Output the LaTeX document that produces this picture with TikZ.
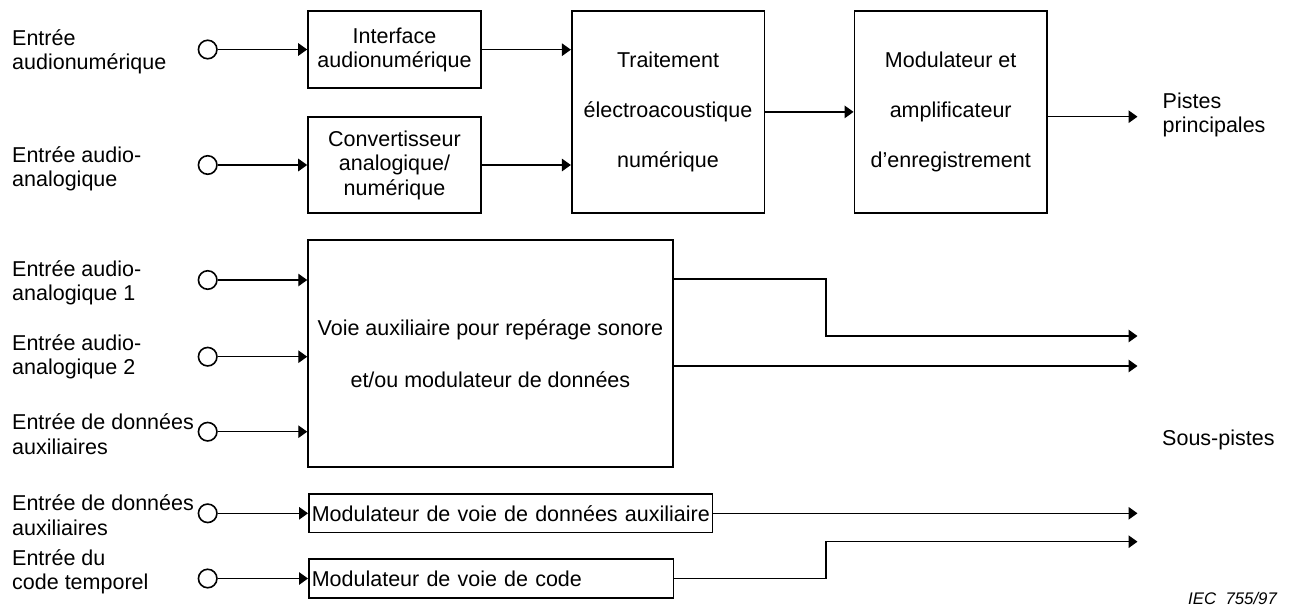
\documentclass[tikz,border=0pt]{standalone}
\usepackage{fontspec}
\setmainfont{Liberation Sans}
\usetikzlibrary{arrows.meta}

\begin{document}
\begin{tikzpicture}[x=1pt,y=-1pt,>={Triangle[length=9pt,width=12.5pt]},font=\fontsize{21.5}{24.5}\selectfont]
\tikzstyle{blk}=[draw,line width=1.6pt,align=center,inner sep=0pt]
\tikzstyle{chan}=[draw,line width=1.6pt,align=left,anchor=west,inner xsep=3pt,inner ysep=0pt,minimum height=38.7pt]
\tikzstyle{port}=[draw,circle,line width=1.6pt,minimum size=18.5pt,inner sep=0pt]
\tikzstyle{lbl}=[align=left,anchor=west,inner sep=0pt]
\tikzstyle{wire}=[line width=1.4pt]
\useasboundingbox (0,0) rectangle (1290,608);
% blocs
\node[blk,minimum width=173pt,minimum height=77pt] (iface) at (394.5,49.7) {Interface\\audionumérique};
\node[blk,minimum width=173pt,minimum height=95.5pt] (conv) at (394.5,165) {Convertisseur\\analogique/\\numérique};
\node[blk,minimum width=192.6pt,minimum height=201.7pt,font=\fontsize{21.5}{50}\selectfont] (trait) at (668,111.9) {Traitement\\électroacoustique\\numérique};
\node[blk,minimum width=192.7pt,minimum height=201.7pt,font=\fontsize{21.5}{50}\selectfont] (modul) at (950.7,111.9) {Modulateur et\\amplificateur\\d’enregistrement};
\node[blk,minimum width=364.7pt,minimum height=227pt,font=\fontsize{21.5}{52}\selectfont] (aux) at (490.4,353.5) {Voie auxiliaire pour repérage sonore\\et/ou modulateur de données};
\node[chan,text width=397.7pt] (dmod) at (308,513.3) {\mbox{Modulateur de voie de données auxiliaire}};
\node[chan,text width=358.7pt] (cmod) at (308,578.5) {\mbox{Modulateur de voie de code}};
% entrees
\foreach \i/\y/\ly/\t/\txt in {1/49.5/52/iface/{Entrée\\audionumérique},2/165/169/conv/{Entrée audio-\\analogique},3/280/283/aux/{Entrée audio-\\analogique 1},4/356.7/357/aux/{Entrée audio-\\analogique 2},5/431.7/434/aux/{Entrée de données\\auxiliaires},6/513.3/515/dmod/{Entrée de données\\auxiliaires},7/578.5/572/cmod/{Entrée du\\code temporel}} {
 \node[lbl] (l\i) at (12,\ly) {\txt};
 \node[port] (p\i) at (207.7,\y) {};
 \draw[wire,->] (p\i) -- (p\i -| \t.west);
}
\draw[wire,->] (iface) -- (iface -| trait.west);
\draw[wire,->] (conv) -- (conv -| trait.west);
\draw[wire,->] (trait) -- (modul);
% sorties
\coordinate (pp) at (1137.5,116.7);
\coordinate (k1) at (826,279);
\coordinate (k2) at (826,541.7);
\coordinate (s1) at (1137.5,336);
\coordinate (s2) at (1137.5,366);
\coordinate (s3) at (1137.5,513.3);
\draw[wire,->] (modul.east |- pp) -- (pp);
\draw[wire,->] (aux.east |- k1) -- (k1) |- (s1);
\draw[wire,->] (aux.east |- s2) -- (s2);
\draw[wire,->] (dmod.east) -- (s3);
\draw[wire,->] (cmod.east) -| (k2) -- (k2 -| s3);
\node[lbl] (pistes) at (1162.5,115) {Pistes\\principales};
\node[lbl] (sous) at (1162,440) {Sous-pistes};
\node[anchor=base west,inner sep=0pt,font=\fontsize{16.8}{18}\selectfont\itshape] (iec) at (1188,604) {IEC\ \ 755/97};
\end{tikzpicture}
\end{document}
